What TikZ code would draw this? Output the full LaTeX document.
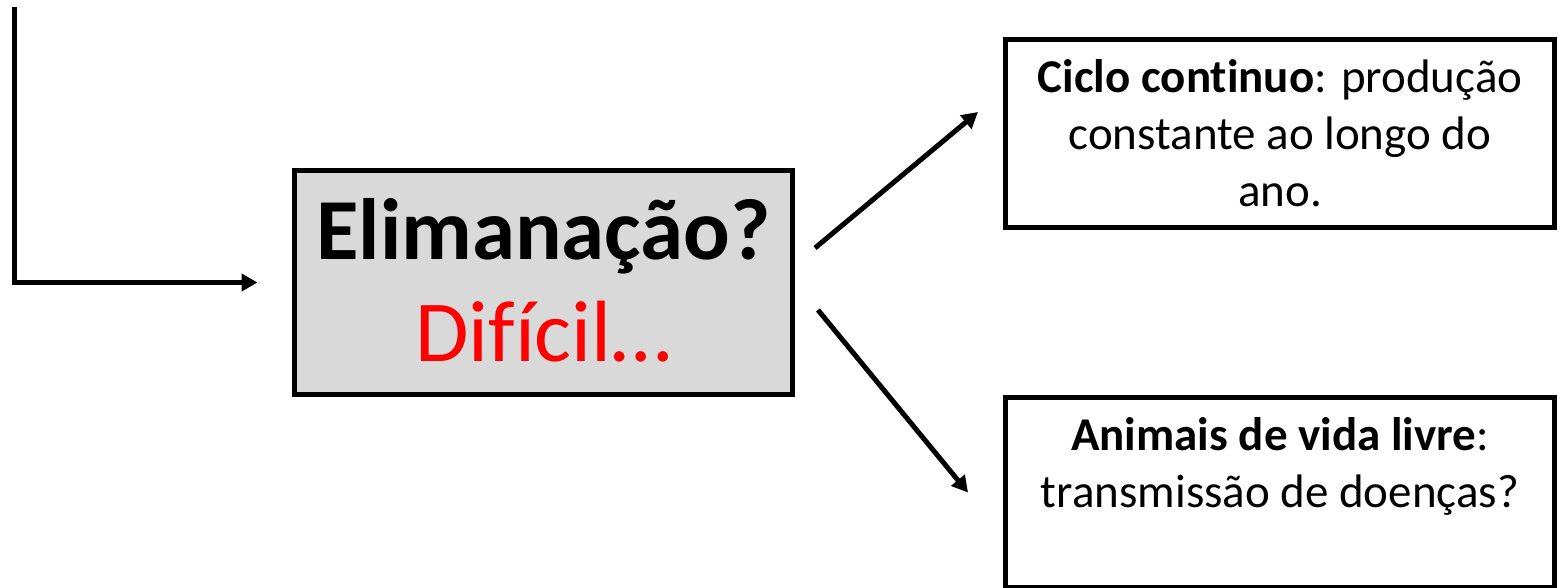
\documentclass[tikz,border=0pt]{standalone}
\usepackage{fontspec}
\setmainfont{Carlito}[Ligatures=NoCommon]
\usetikzlibrary{arrows.meta,calc}
\definecolor{boxgray}{HTML}{D9D9D9}
\definecolor{txtred}{HTML}{FF0000}
\begin{document}
\begin{tikzpicture}[x=1pt,y=-1pt,
  box/.style={draw=black, line width=4.5pt, inner sep=0pt, outer sep=0pt, anchor=north west, rectangle},
  conn/.style={line width=5pt, -{Triangle[length=16pt,width=17pt]}},
  bigtxt/.style={font=\fontsize{87}{102}\selectfont, anchor=base, inner sep=0pt},
  smalltxt/.style={font=\fontsize{47}{57}\selectfont, align=center, anchor=base, inner sep=0pt}]
\useasboundingbox (0,0) rectangle (1560,587);
% boxes
\node[box, fill=boxgray, minimum width=498pt, minimum height=224pt] (main) at (294.5,170.5) {};
\node[box, minimum width=549pt, minimum height=188pt] (top) at (1005.5,39.5) {};
\node[box, minimum width=549pt, minimum height=190pt] (bot) at (1005.5,397.5) {};
% texts (anchor = baseline of last line)
\node[bigtxt, font=\fontsize{87}{102}\selectfont\bfseries] (t1) at (543.5,259) {Elimanação?};
\node[bigtxt, text=txtred] (t2) at (543.5,361) {Difícil…};
\node[smalltxt] (toptxt) at (1280,206) {\textbf{Ciclo continuo}: produção\\constante ao longo do\\ano.};
\node[smalltxt] (bottxt) at (1280,507) {\textbf{Animais de vida livre}:\\transmissão de doenças?};
% connectors
\coordinate (src) at (14,7);
\draw[conn] (src) |- ([xshift=-37pt]main.west);
\draw[conn] ([shift={(22.5,-34.5)}]main.east) -- ([shift={(-27.5,-21.5)}]top.west);
\draw[conn] ([shift={(25.5,27.5)}]main.east) -- ([shift={(-37.5,0)}]bot.west);
\end{tikzpicture}
\end{document}
